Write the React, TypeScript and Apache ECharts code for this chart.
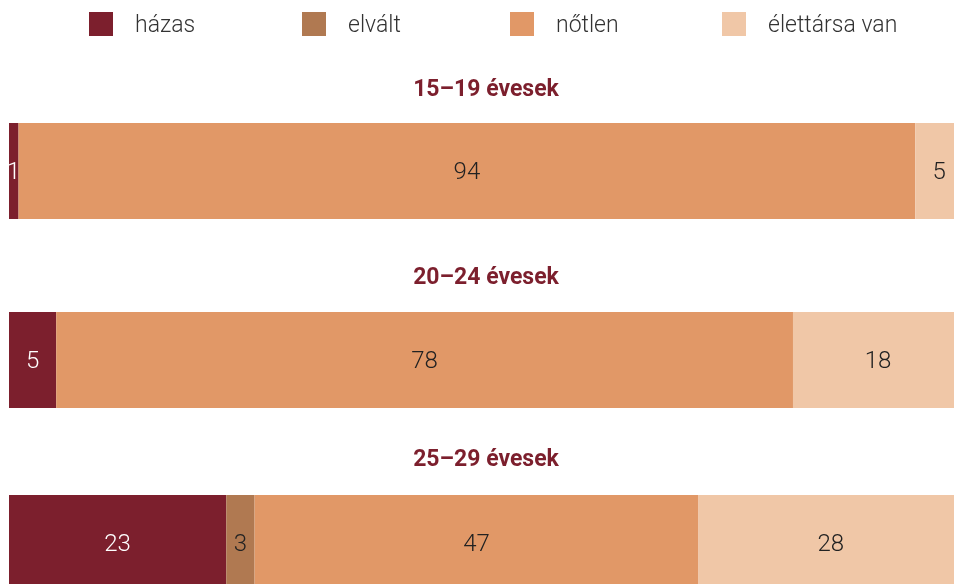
import React, { useEffect, useRef } from "react";
import * as echarts from "echarts";

const categories = ["15–19 évesek", "20–24 évesek", "25–29 évesek"];
const seriesNames = ["házas", "elvált", "nőtlen", "élettársa van"];
const hazas = [1, 5, 23];
const elvalt = [0, 0, 3];
const notlen = [94, 78, 47];
const elettarsa = [5, 18, 28];

const colors = ["#7C1F2D", "#B07951", "#E19867", "#F0C7A7"];
const labelColors = ["#ffffff", "#222222", "#222222", "#222222"];

const gridTops = [115, 304, 487];
const titleCenters = [80, 268, 450];
const legendLefts = [81, 294, 502, 714];

export default function App() {
  const ref = useRef<HTMLDivElement>(null);
  useEffect(() => {
    document.documentElement.style.overflow = "hidden";
    document.body.style.overflow = "hidden";
    if (!ref.current) return;
    const chart = echarts.init(ref.current, null, { renderer: "svg" });
    const values = [hazas, elvalt, notlen, elettarsa];
    const grids = categories.map((_, i) => ({
      left: 1,
      width: 954,
      top: gridTops[i],
      height: 96,
    }));
    const xAxes = categories.map((_, i) => ({
      type: "value" as const,
      gridIndex: i,
      min: 0,
      max: values.reduce((s, arr) => s + arr[i], 0),
      show: false,
    }));
    const yAxes = categories.map((c, i) => ({
      type: "category" as const,
      gridIndex: i,
      data: [c],
      show: false,
    }));
    const series: any[] = [];
    categories.forEach((_, g) => {
      seriesNames.forEach((name, s) => {
        series.push({
          type: "bar",
          name,
          stack: "total" + g,
          xAxisIndex: g,
          yAxisIndex: g,
          barWidth: "100%",
          data: [values[s][g]],
          itemStyle: { color: colors[s] },
          label: {
            show: true,
            position: "inside",
            color: labelColors[s],
            fontFamily: "Roboto",
            fontWeight: 300,
            fontSize: 24,
            formatter: (p: any) => (p.value ? String(p.value) : ""),
          },
        });
      });
    });
    const titles = categories.map((c, i) => ({
      text: c,
      left: "center",
      top: titleCenters[i] - 16,
      textStyle: {
        color: "#7C1F2D",
        fontFamily: "Roboto",
        fontWeight: "bold",
        fontSize: 23,
      },
    }));
    const legends = seriesNames.map((n, i) => ({
      data: [n],
      left: legendLefts[i],
      top: 4,
      padding: 0,
      itemWidth: 24,
      itemHeight: 24,
      icon: "rect",
      selectedMode: false,
      textStyle: {
        fontFamily: "Roboto",
        fontWeight: 300,
        fontSize: 23,
        color: "#333333",
        padding: [0, 0, 0, 17],
      },
    }));
    chart.setOption({
      animation: false,
      title: titles,
      legend: legends,
      grid: grids,
      xAxis: xAxes,
      yAxis: yAxes,
      series,
    });
    return () => chart.dispose();
  }, []);
  return (
    <div
      style={{
        position: "fixed",
        left: 8,
        top: 8,
        right: 0,
        bottom: 0,
        overflow: "hidden",
      }}
    >
      <div ref={ref} style={{ width: 956, height: 600 }} />
    </div>
  );
}
